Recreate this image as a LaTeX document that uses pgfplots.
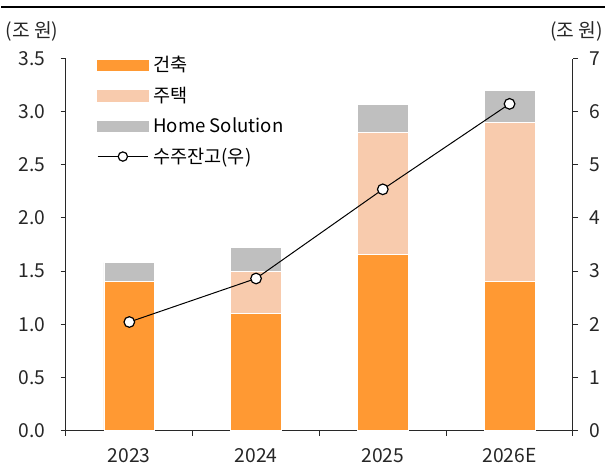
\documentclass[border=0pt]{standalone}
\usepackage{pgfplots}
\pgfplotsset{compat=1.18}
\usepackage{fontspec}
\setmainfont{Noto Sans CJK KR}
\definecolor{cOrange}{RGB}{255,153,51}
\definecolor{cPeach}{RGB}{248,203,173}
\definecolor{cGray}{RGB}{191,191,191}
\definecolor{cAxis}{RGB}{40,40,40}
\begin{document}
\begin{tikzpicture}
\pgfplotsset{
  common/.style={
    scale only axis, width=381.75pt, height=279.75pt,
    xmin=-0.5, xmax=3.5,
    tick align=outside,
    /pgf/number format/assume math mode=true,
    tick label style={font=\fontsize{14.5pt}{16pt}\selectfont, text=black!85},
    axis line style={cAxis, line width=0.75pt},
    major tick length=4pt,
    minor tick length=4pt,
    tick style={cAxis, line width=0.75pt},
  }
}
\path (-48.75pt,-29.25pt) rectangle (405.75pt,324pt);
\begin{axis}[common, name=ax1,
  axis y line*=left, axis x line*=bottom,
  ymin=0, ymax=3.5,
  ytick={0,0.5,1,1.5,2,2.5,3,3.5},
  yticklabel style={xshift=-8pt, /pgf/number format/.cd, fixed, fixed zerofill, precision=1},
  xtick={0,1,2,3},
  xticklabels={2023,2024,2025,2026E},
  major x tick style={draw=none},
  minor xtick={-0.5,0.5,1.5,2.5,3.5},
  xticklabel style={yshift=-5.75pt, text height=11pt, text depth=1pt},
  ybar stacked, bar width=0.4,
]
\addplot[fill=cOrange, draw=white, line width=0.4pt] coordinates {(0,1.40) (1,1.10) (2,1.66) (3,1.40)};
\addplot[fill=cPeach, draw=white, line width=0.4pt] coordinates {(0,0) (1,0.40) (2,1.15) (3,1.50)};
\addplot[fill=cGray, draw=white, line width=0.4pt] coordinates {(0,0.18) (1,0.22) (2,0.26) (3,0.30)};
\end{axis}
\begin{axis}[common,
  axis y line*=right, axis x line=none,
  ymin=0, ymax=7, ytick={0,1,...,7},
  yticklabel style={xshift=5pt},
  legend cell align=left,
  legend style={at={(0.061,1.007)}, anchor=north west, draw=none, fill=none,
    inner sep=0pt, row sep=10pt,
    font=\fontsize{14pt}{15pt}\selectfont,
    nodes={inner xsep=3.5pt, inner ysep=0pt}},
]
\addlegendimage{legend image code/.code={\fill[cOrange] (0pt,-4pt) rectangle (38pt,4pt);}}
\addlegendentry{건축}
\addlegendimage{legend image code/.code={\fill[cPeach] (0pt,-4pt) rectangle (38pt,4pt);}}
\addlegendentry{주택}
\addlegendimage{legend image code/.code={\fill[cGray] (0pt,-4pt) rectangle (38pt,4pt);}}
\addlegendentry{Home Solution}
\addplot[black, line width=0.75pt, mark=*, mark size=4pt, mark options={fill=white, line width=0.9pt},
  legend image code/.code={\draw[black, line width=0.75pt] (0pt,0pt) -- (38pt,0pt);
    \draw[black, fill=white, line width=0.9pt] (19pt,0pt) circle (3.5pt);}]
  coordinates {(0,2.04) (1,2.86) (2,4.54) (3,6.15)};
\addlegendentry{수주잔고(우)}
\end{axis}
\node[font=\fontsize{14.5pt}{16pt}\selectfont, text=black!85] at (-25.5pt,300pt) {(조 원)};
\node[font=\fontsize{14.5pt}{16pt}\selectfont, text=black!85, anchor=east, inner xsep=0pt] at (404.5pt,300pt) {(조 원)};
\draw[black, line width=1.8pt] (-48.75pt,318.75pt) -- (405.75pt,318.75pt);
\end{tikzpicture}
\end{document}
